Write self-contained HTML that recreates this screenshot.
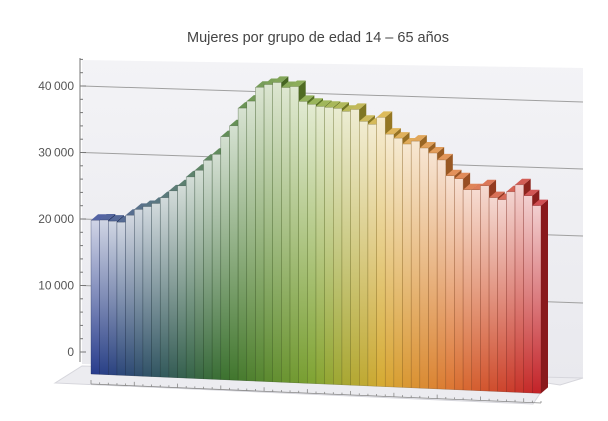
<!DOCTYPE html>
<html><head><meta charset="utf-8"><style>
html,body{margin:0;padding:0;background:#fff;}
svg{display:block;font-family:"Liberation Sans",sans-serif;}
</style></head><body>
<svg id="chart" width="608" height="421" viewBox="0 0 608 421">
<defs>
<linearGradient id="backg" x1="0" y1="0" x2="0" y2="1"><stop offset="0" stop-color="#f3f3f6"/><stop offset="1" stop-color="#e9e9ee"/></linearGradient>
</defs>
<text x="318" y="42" text-anchor="middle" font-size="14.5" fill="#444">Mujeres por grupo de edad 14 – 65 años</text>
<polygon points="82,60 583,68 583,378 82,364" fill="url(#backg)"/>
<polygon points="55,383 82,366 583,378 560,385 547,383 533,404" fill="#ececf0" stroke="#d6d6dc"/>
<g id="grid"></g>
<g id="yaxis"></g>
<g id="xticks"></g>
<g id="bars"></g>
</svg>
<script>
var ages = [];
for (var a = 14; a <= 65; a++) ages.push(a);
var values = [20500,20580,20490,20400,21370,22200,22630,23090,23920,24870,25590,26830,27760,29140,29990,32400,33890,36300,37280,39170,39600,39920,39300,39480,37550,37210,36970,36900,36820,36470,36780,35240,34890,35860,33670,33190,32450,32890,32020,31400,30530,28470,28120,26710,26760,27340,25800,25590,26680,27660,26250,24990];
var yTicks = [0,10000,20000,30000,40000];
var yTickLabels = ["0","10\u2009000","20\u2009000","30\u2009000","40\u2009000"];

var NS = "http://www.w3.org/2000/svg";
function mk(tag, attrs, parent){var e=document.createElementNS(NS,tag);for(var k in attrs)e.setAttribute(k,attrs[k]);parent.appendChild(e);return e;}
var n = values.length;
var bw = 450/n;
function xOf(i){return 91 + i*bw;}
function baseY(i){return 374 + 19*i/(n-1);}
function hOf(v){return v*0.0075;}
function axisYL(v){return 352 - v*0.00665;}
function axisYR(v){return 370 - v*0.0067;}

var grid=document.getElementById('grid'), yaxis=document.getElementById('yaxis'), xt=document.getElementById('xticks'), bars=document.getElementById('bars');
mk('line',{x1:80,y1:58,x2:80,y2:362,stroke:'#777','stroke-width':1},yaxis);
for (var t=0;t<yTicks.length;t++){
  var v=yTicks[t];
  if(v>0){
    var g=mk('line',{x1:82,y1:axisYL(v),x2:583,y2:axisYR(v),stroke:'#a0a0a0','stroke-width':1},grid);
    
    
  }
  var lb=mk('text',{x:74,y:axisYL(v)+4,'text-anchor':'end','font-size':12,fill:'#555'},yaxis);
  lb.textContent=yTickLabels[t];
  
  
}
for (var m=0;m<=44000;m+=2000){
  var len = (m%10000===0)?6:3;
  mk('line',{x1:80,y1:axisYL(m),x2:80+len,y2:axisYL(m),stroke:'#777','stroke-width':1},yaxis);
}
for (var i=0;i<=n;i++){
  var tx=91+i*bw, ty=384+19*i/n;
  mk('line',{x1:tx,y1:ty,x2:tx,y2:ty-(i%5===0?4:2),stroke:'#888','stroke-width':0.8},xt);
}
mk('line',{x1:91,y1:384,x2:541,y2:403,stroke:'#888','stroke-width':0.8},xt);

var stops=[[0,[40,60,140]],[0.3,[60,115,45]],[0.5,[130,165,50]],[0.65,[215,170,50]],[0.8,[220,120,50]],[1,[195,35,40]]];
function colAt(f){
  for(var s=1;s<stops.length;s++){if(f<=stops[s][0]){var a=stops[s-1],b=stops[s],u=(f-a[0])/(b[0]-a[0]);return [0,1,2].map(function(k){return Math.round(a[1][k]+(b[1][k]-a[1][k])*u);});}}
  return stops[stops.length-1][1];
}
function rgb(c,m){return 'rgb('+c.map(function(x){return Math.max(0,Math.min(255,Math.round(x*m)));}).join(',')+')';}
function light(c,t){return 'rgb('+c.map(function(x){return Math.round(x+(255-x)*t);}).join(',')+')';}
var defs=document.querySelector('defs');
var dx=7, dy=-6;
for (var i=0;i<n;i++){
  var c=colAt(i/(n-1));
  var gid='bg'+i;
  var lg=mk('linearGradient',{id:gid,x1:0,y1:0,x2:0,y2:1},defs);
  mk('stop',{offset:0,'stop-color':light(c,0.78)},lg);
  mk('stop',{offset:0.5,'stop-color':light(c,0.4)},lg);
  mk('stop',{offset:1,'stop-color':rgb(c,1)},lg);
  var x0=xOf(i), x1=x0+bw, yb=baseY(i), yt=yb-hOf(values[i]), yb2=yb+19/(n-1);
  var grp=mk('g',{},bars);
  
  
  mk('polygon',{points:x1+','+yt+' '+(x1+dx)+','+(yt+dy)+' '+(x1+dx)+','+(yb2+dy)+' '+x1+','+yb2,fill:rgb(c,0.7)},grp);
  mk('polygon',{points:x0+','+yt+' '+(x0+dx)+','+(yt+dy)+' '+(x1+dx)+','+(yt+dy)+' '+x1+','+yt,fill:light(c,0.2)},grp);
  mk('polygon',{points:x0+','+yt+' '+x1+','+yt+' '+x1+','+yb2+' '+x0+','+yb,fill:'url(#'+gid+')',stroke:rgb(c,0.6),'stroke-width':0.5,'stroke-opacity':0.6},grp);
}
</script>
</body></html>
